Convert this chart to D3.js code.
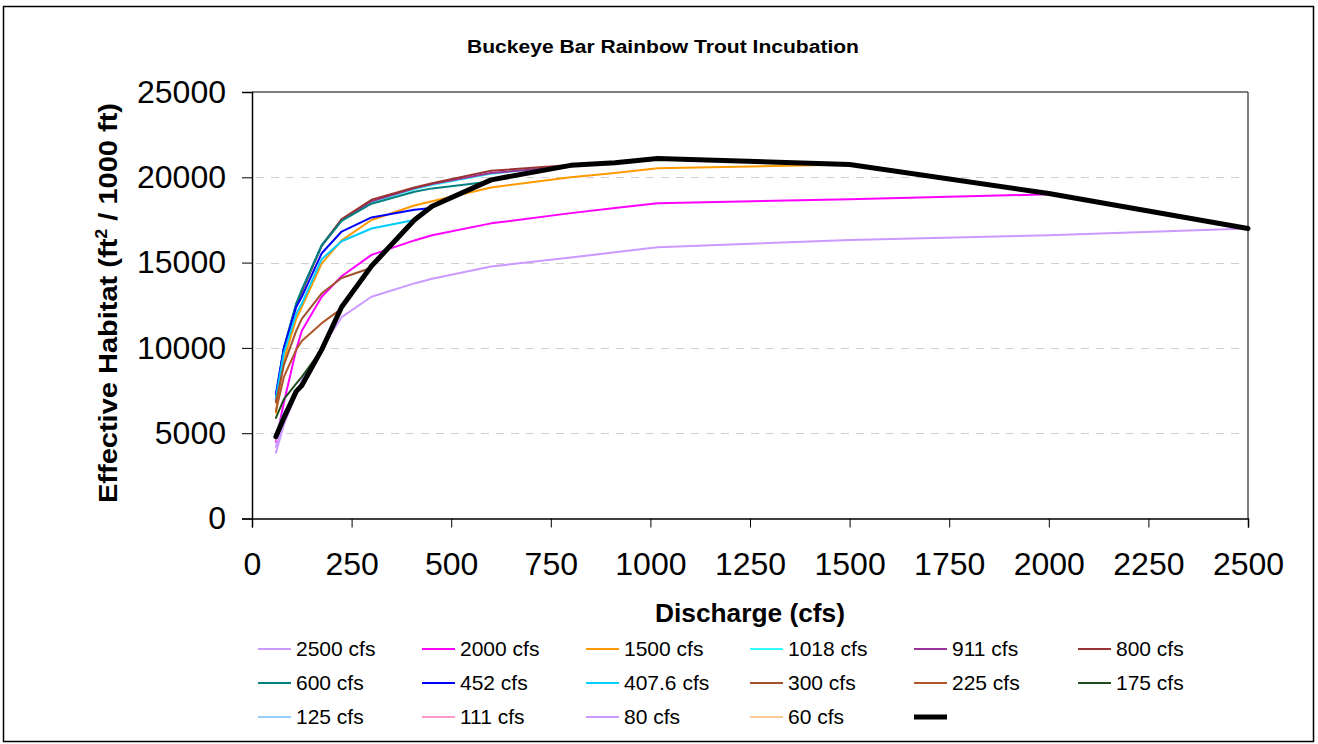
<!DOCTYPE html>
<html>
<head>
<meta charset="utf-8">
<script src="https://cdn.jsdelivr.net/npm/d3@7"></script>
<style>
  html, body { margin: 0; padding: 0; background: #fff; }
  svg { display: block; font-family: Arial, "Liberation Sans", sans-serif; }
</style>
</head>
<body>
<svg id="chart" width="1318" height="744"></svg>
<script>
// ---------------- DATA ----------------
const flows = [60, 80, 111, 125, 175, 225, 300, 407.6, 452, 600, 800, 911, 1018, 1500, 2000, 2500];
const xTicks = [0, 250, 500, 750, 1000, 1250, 1500, 1750, 2000, 2250, 2500];
const yTicks = [0, 5000, 10000, 15000, 20000, 25000];
const seriesNames = ["2500 cfs", "2000 cfs", "1500 cfs", "1018 cfs", "911 cfs", "800 cfs",
                     "600 cfs", "452 cfs", "407.6 cfs", "300 cfs", "225 cfs", "175 cfs",
                     "125 cfs", "111 cfs", "80 cfs", "60 cfs", ""];
const seriesColors = ["#CC99FF", "#FF00FF", "#FF9900", "#33FFFF", "#993399", "#993333",
                      "#008080", "#0000FF", "#00CCFF", "#A0522D", "#B0562A", "#1F4D1F",
                      "#99CCFF", "#FF99CC", "#CC99FF", "#FFCC99", "#000000"];
const s2500 = [3850, 5500, 7300, 8100, 10000, 11800, 13000, 13780, 14050, 14770, 15300, 15600, 15900, 16330, 16600, 17000];
const s2000 = [4500, 6800, 9900, 11000, 13000, 14200, 15450, 16300, 16600, 17300, 17900, 18200, 18480, 18720, 19000];
const s1500 = [6200, 9300, 11700, 12400, 14950, 16300, 17500, 18350, 18600, 19400, 20000, 20250, 20530, 20750];
const s1018 = [7250, 10000, 12600, 13400, 16050, 17500, 18550, 19300, 19550, 20200, 20700, 20900, 21080];
const s911  = [7000, 9950, 12550, 13350, 16000, 17500, 18600, 19350, 19600, 20250, 20650, 20850];
const s800  = [6900, 9900, 12500, 13300, 16000, 17550, 18680, 19400, 19650, 20380, 20720];
const s600  = [7100, 10000, 12600, 13400, 16000, 17450, 18450, 19150, 19350, 19750];
const s452  = [7300, 10000, 12400, 13000, 15550, 16820, 17650, 18100, 18200];
const s407  = [7050, 9700, 12000, 12600, 15200, 16250, 17000, 17500];
const s300  = [6800, 9000, 11000, 11700, 13200, 14100, 14700];
const s225  = [6300, 8300, 9900, 10400, 11450, 12300];
const s175  = [5900, 7000, 7900, 8300, 9900];
const s125  = [5000, 6200, 7400, 7900];
const s111  = [4600, 6000, 7500];
const s80   = [4200, 5900];
const s60   = [4800];
const sTotal = [4800, 5900, 7450, 7800, 9900, 12400, 14800, 17500, 18300, 19850, 20700, 20850, 21100, 20750, 19050, 17000];

const seriesValues = [s2500, s2000, s1500, s1018, s911, s800, s600, s452, s407, s300, s225, s175, s125, s111, s80, s60, sTotal];

// ---------------- LAYOUT ----------------
const plot = { left: 252, right: 1248, top: 92, bottom: 518.5 };

const svg = d3.select("#chart");

// outer border
svg.append("rect").attr("x", 3.5).attr("y", 6.5).attr("width", 1310).attr("height", 735)
  .attr("fill", "#fff").attr("stroke", "#000").attr("stroke-width", 1.5);

const x = d3.scaleLinear().domain([0, 2500]).range([plot.left, plot.right]);
const y = d3.scaleLinear().domain([0, 25000]).range([plot.bottom, plot.top]);

// gridlines
svg.append("g").selectAll("line").data(yTicks.filter(v => v > 0 && v < 25000)).join("line")
  .attr("x1", plot.left + 4).attr("x2", plot.right - 4)
  .attr("y1", d => Math.round(y(d)) + 0.5).attr("y2", d => Math.round(y(d)) + 0.5)
  .attr("stroke", "#cfcfcf").attr("stroke-width", 1.2).attr("stroke-dasharray", "8,7");

// plot frame (top & right)
svg.append("line").attr("x1", plot.left).attr("x2", plot.right).attr("y1", plot.top).attr("y2", plot.top)
  .attr("stroke", "#555").attr("stroke-width", 1.5);
svg.append("line").attr("x1", plot.right).attr("x2", plot.right).attr("y1", plot.top).attr("y2", plot.bottom)
  .attr("stroke", "#555").attr("stroke-width", 1.5);

// axes
const xAxis = d3.axisBottom(x).tickValues(xTicks).tickSize(9).tickPadding(25).tickFormat(d3.format("d"));
const yAxis = d3.axisLeft(y).tickValues(yTicks).tickSize(10).tickPadding(16).tickFormat(d3.format("d"));

const gx = svg.append("g").attr("transform", `translate(0,${plot.bottom})`).call(xAxis);
const gy = svg.append("g").attr("transform", `translate(${plot.left},0)`).call(yAxis);
[gx, gy].forEach(g => {
  g.select(".domain").attr("stroke", "#000").attr("stroke-width", 1.5);
  g.selectAll(".tick line").attr("stroke", "#000").attr("stroke-width", 1);
  g.selectAll(".tick text").attr("fill", "#000").style("font-size", "32px")
    .style("font-family", "Arial, 'Liberation Sans', sans-serif");
});

// lines
const line = d3.line().x((d, i) => x(flows[i])).y(d => y(d));
const gl = svg.append("g");
seriesValues.forEach((vals, k) => {
  if (vals.length < 2) return;
  gl.append("path").datum(vals)
    .attr("d", line)
    .attr("fill", "none")
    .attr("stroke", seriesColors[k])
    .attr("stroke-width", k === seriesValues.length - 1 ? 5 : 2)
    .attr("stroke-linejoin", "round")
    .attr("stroke-linecap", "round");
});

// title
svg.append("text").attr("x", 663).attr("y", 53).attr("text-anchor", "middle")
  .style("font-size", "18px").style("font-weight", "bold")
  .attr("textLength", 392).attr("lengthAdjust", "spacingAndGlyphs")
  .text("Buckeye Bar Rainbow Trout Incubation");

// axis titles
svg.append("text").attr("x", 750).attr("y", 622).attr("text-anchor", "middle")
  .style("font-size", "25px").style("font-weight", "bold")
  .attr("textLength", 190).attr("lengthAdjust", "spacingAndGlyphs")
  .text("Discharge (cfs)");

const yt = svg.append("text").attr("transform", "translate(117,303) rotate(-90)")
  .attr("text-anchor", "middle").style("font-size", "26px").style("font-weight", "bold")
  .attr("textLength", 400).attr("lengthAdjust", "spacingAndGlyphs");
yt.append("tspan").text("Effective Habitat (ft");
yt.append("tspan").attr("dy", -10).style("font-size", "16px").text("2");
yt.append("tspan").attr("dy", 10).text(" / 1000 ft)");

// legend
const legend = svg.append("g");
seriesNames.forEach((name, k) => {
  const col = k % 6, row = Math.floor(k / 6);
  const lx = 258 + col * 164, ly = 649 + row * 34;
  const isTotal = k === seriesNames.length - 1;
  legend.append("line").attr("x1", lx).attr("x2", lx + 33).attr("y1", ly).attr("y2", ly)
    .attr("stroke", seriesColors[k]).attr("stroke-width", isTotal ? 5 : 2);
  if (name) {
    legend.append("text").attr("x", lx + 38).attr("y", ly + 7)
      .style("font-size", "21px").text(name);
  }
});
</script>
</body>
</html>
